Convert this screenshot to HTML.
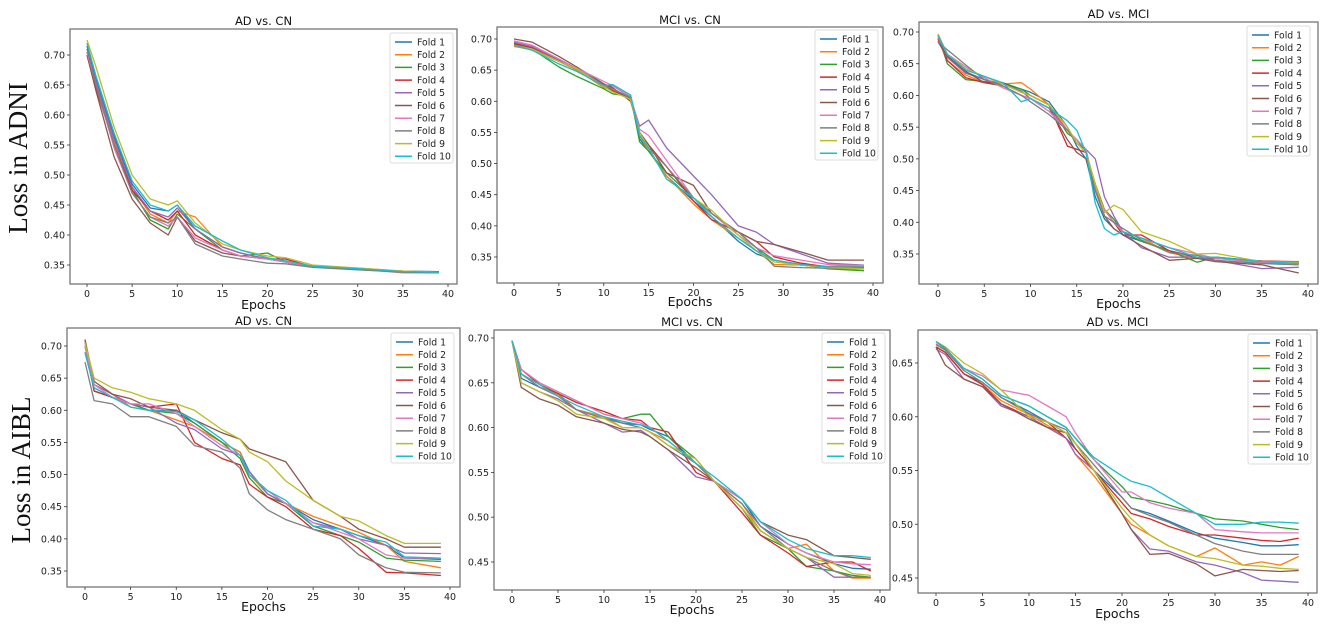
<!DOCTYPE html>
<html><head><meta charset="utf-8">
<style>
html,body{margin:0;padding:0;background:#fff;}
svg{display:block;font-family:"DejaVu Sans","Liberation Sans",sans-serif;}
</style></head>
<body>
<svg id="fig" width="1325" height="633" viewBox="0 0 1325 633" xmlns="http://www.w3.org/2000/svg">
<rect width="1325" height="633" fill="#fff"/>
<text x="0" y="0" transform="translate(27,158) rotate(-90)" text-anchor="middle" font-family="Liberation Serif, serif" font-size="27" fill="#111">Loss in ADNI</text>
<text x="0" y="0" transform="translate(30,470) rotate(-90)" text-anchor="middle" font-family="Liberation Serif, serif" font-size="27" fill="#111">Loss in AIBL</text>
</svg>
<script>
const foldColors=["#1f77b4","#ff7f0e","#2ca02c","#d62728","#9467bd","#8c564b","#e377c2","#7f7f7f","#bcbd22","#17becf"];
const foldLabels=["Fold 1","Fold 2","Fold 3","Fold 4","Fold 5","Fold 6","Fold 7","Fold 8","Fold 9","Fold 10"];
const xTicks=[0,5,10,15,20,25,30,35,40];

// Panel 1: ADNI AD vs CN
const p1Epochs=[0,1,3,5,7,9,10,12,15,17,20,22,25,30,35,39];
const p1Folds=[
[0.715,0.66,0.565,0.485,0.445,0.44,0.45,0.41,0.38,0.37,0.36,0.355,0.348,0.343,0.340,0.339],
[0.705,0.65,0.555,0.48,0.435,0.42,0.44,0.43,0.38,0.37,0.36,0.355,0.347,0.345,0.339,0.338],
[0.705,0.645,0.55,0.475,0.425,0.41,0.435,0.41,0.375,0.365,0.37,0.355,0.347,0.343,0.339,0.338],
[0.70,0.645,0.55,0.475,0.44,0.425,0.44,0.40,0.375,0.365,0.36,0.36,0.347,0.343,0.339,0.338],
[0.71,0.655,0.56,0.48,0.44,0.43,0.445,0.41,0.38,0.37,0.36,0.355,0.347,0.343,0.339,0.338],
[0.70,0.64,0.53,0.46,0.42,0.40,0.43,0.39,0.37,0.365,0.36,0.355,0.347,0.343,0.338,0.337],
[0.705,0.65,0.545,0.47,0.43,0.415,0.43,0.395,0.375,0.365,0.36,0.355,0.347,0.343,0.337,0.337],
[0.71,0.65,0.55,0.47,0.43,0.42,0.43,0.385,0.365,0.36,0.353,0.352,0.346,0.342,0.338,0.337],
[0.725,0.68,0.58,0.50,0.46,0.45,0.457,0.42,0.385,0.375,0.365,0.362,0.35,0.345,0.340,0.338],
[0.72,0.665,0.57,0.49,0.45,0.44,0.45,0.415,0.39,0.375,0.362,0.357,0.348,0.344,0.339,0.338]];

// Panel 2: ADNI MCI vs CN
const p2Epochs=[0,2,5,7,10,11,13,14,15,17,20,22,25,27,29,32,35,39];
const p2Folds=[
[0.69,0.685,0.665,0.65,0.625,0.625,0.607,0.54,0.52,0.48,0.44,0.415,0.375,0.355,0.345,0.337,0.333,0.332],
[0.688,0.683,0.664,0.65,0.622,0.618,0.605,0.545,0.52,0.48,0.435,0.41,0.38,0.36,0.338,0.337,0.335,0.336],
[0.692,0.684,0.655,0.64,0.62,0.612,0.608,0.535,0.52,0.485,0.445,0.42,0.39,0.365,0.345,0.338,0.331,0.328],
[0.693,0.686,0.665,0.652,0.625,0.617,0.605,0.55,0.53,0.495,0.44,0.41,0.39,0.375,0.35,0.34,0.334,0.334],
[0.695,0.688,0.667,0.652,0.626,0.62,0.605,0.56,0.57,0.525,0.48,0.45,0.40,0.39,0.37,0.355,0.34,0.337],
[0.70,0.695,0.672,0.655,0.628,0.622,0.60,0.55,0.53,0.485,0.465,0.42,0.39,0.375,0.37,0.358,0.345,0.345],
[0.697,0.69,0.668,0.653,0.632,0.625,0.607,0.555,0.545,0.505,0.445,0.42,0.385,0.365,0.352,0.345,0.338,0.336],
[0.69,0.684,0.664,0.652,0.625,0.62,0.606,0.545,0.525,0.495,0.445,0.42,0.39,0.365,0.335,0.333,0.332,0.331],
[0.69,0.684,0.664,0.652,0.624,0.615,0.603,0.55,0.525,0.475,0.445,0.425,0.385,0.36,0.342,0.337,0.333,0.331],
[0.69,0.682,0.66,0.648,0.625,0.627,0.61,0.545,0.525,0.475,0.445,0.415,0.38,0.36,0.345,0.338,0.334,0.334]];

// Panel 3: ADNI AD vs MCI
const p3Epochs=[0,1,3,5,7,9,10,12,14,15,16,17,18,19,20,22,25,28,30,35,39];
const p3Folds=[
[0.69,0.66,0.637,0.625,0.618,0.61,0.605,0.59,0.55,0.52,0.50,0.44,0.405,0.39,0.38,0.37,0.355,0.345,0.345,0.339,0.337],
[0.688,0.655,0.632,0.62,0.618,0.62,0.61,0.585,0.545,0.525,0.51,0.46,0.42,0.40,0.385,0.375,0.352,0.343,0.343,0.338,0.338],
[0.695,0.65,0.625,0.622,0.62,0.61,0.60,0.585,0.54,0.53,0.51,0.46,0.42,0.405,0.385,0.37,0.355,0.337,0.345,0.338,0.336],
[0.69,0.655,0.628,0.62,0.62,0.605,0.60,0.585,0.52,0.515,0.51,0.45,0.42,0.40,0.38,0.38,0.355,0.345,0.343,0.339,0.338],
[0.685,0.66,0.635,0.625,0.618,0.607,0.595,0.58,0.545,0.53,0.515,0.50,0.44,0.41,0.385,0.36,0.345,0.345,0.34,0.327,0.329],
[0.685,0.662,0.638,0.62,0.615,0.60,0.595,0.58,0.53,0.51,0.50,0.45,0.41,0.39,0.38,0.363,0.34,0.343,0.338,0.333,0.32],
[0.692,0.665,0.645,0.628,0.612,0.60,0.595,0.575,0.545,0.53,0.515,0.455,0.42,0.40,0.385,0.375,0.36,0.35,0.343,0.336,0.335],
[0.685,0.672,0.648,0.625,0.615,0.60,0.59,0.57,0.545,0.525,0.51,0.45,0.41,0.40,0.39,0.372,0.352,0.348,0.34,0.335,0.333],
[0.697,0.665,0.642,0.63,0.618,0.605,0.6,0.585,0.55,0.525,0.51,0.46,0.415,0.427,0.42,0.385,0.37,0.35,0.351,0.338,0.337],
[0.695,0.665,0.64,0.63,0.62,0.59,0.595,0.58,0.56,0.545,0.51,0.43,0.39,0.38,0.385,0.375,0.36,0.345,0.345,0.338,0.335]];

// Panel 4: AIBL AD vs CN
const p4Epochs=[0,1,3,5,7,10,12,15,17,18,20,22,25,28,30,33,35,39];
const p4Folds=[
[0.69,0.635,0.62,0.61,0.60,0.60,0.58,0.55,0.535,0.505,0.47,0.455,0.43,0.415,0.405,0.39,0.37,0.368],
[0.705,0.64,0.625,0.605,0.60,0.585,0.575,0.55,0.535,0.50,0.47,0.455,0.435,0.42,0.41,0.39,0.365,0.355],
[0.70,0.63,0.62,0.61,0.60,0.595,0.58,0.55,0.525,0.495,0.465,0.455,0.42,0.405,0.395,0.37,0.367,0.365],
[0.71,0.63,0.62,0.61,0.605,0.61,0.55,0.525,0.515,0.485,0.465,0.45,0.415,0.405,0.385,0.348,0.347,0.343],
[0.70,0.64,0.625,0.61,0.605,0.58,0.57,0.54,0.53,0.505,0.47,0.455,0.425,0.415,0.40,0.39,0.378,0.377],
[0.71,0.645,0.625,0.618,0.605,0.60,0.585,0.565,0.555,0.54,0.53,0.52,0.46,0.435,0.415,0.40,0.387,0.387],
[0.70,0.64,0.62,0.61,0.61,0.595,0.575,0.545,0.53,0.50,0.475,0.455,0.425,0.41,0.40,0.375,0.37,0.37],
[0.675,0.615,0.61,0.59,0.59,0.575,0.545,0.535,0.51,0.47,0.445,0.43,0.415,0.40,0.375,0.355,0.348,0.347],
[0.705,0.65,0.635,0.628,0.618,0.61,0.60,0.57,0.555,0.535,0.52,0.49,0.46,0.435,0.428,0.405,0.393,0.393],
[0.69,0.635,0.62,0.605,0.60,0.598,0.585,0.555,0.53,0.50,0.475,0.46,0.42,0.415,0.405,0.395,0.372,0.37]];

// Panel 5: AIBL MCI vs CN
const p5Epochs=[0,1,3,5,7,10,12,14,15,17,20,22,25,27,30,32,35,37,39];
const p5Folds=[
[0.697,0.655,0.645,0.638,0.62,0.612,0.605,0.603,0.598,0.59,0.56,0.54,0.52,0.49,0.47,0.46,0.448,0.443,0.442],
[0.697,0.66,0.645,0.637,0.62,0.612,0.60,0.60,0.595,0.585,0.56,0.54,0.515,0.485,0.465,0.47,0.44,0.432,0.432],
[0.697,0.665,0.65,0.64,0.63,0.615,0.61,0.615,0.615,0.59,0.565,0.54,0.51,0.48,0.465,0.445,0.44,0.435,0.433],
[0.697,0.665,0.648,0.638,0.628,0.618,0.61,0.608,0.60,0.595,0.55,0.54,0.505,0.48,0.46,0.445,0.45,0.45,0.44],
[0.697,0.65,0.64,0.632,0.62,0.605,0.595,0.597,0.59,0.575,0.545,0.54,0.51,0.485,0.465,0.455,0.433,0.433,0.433],
[0.697,0.645,0.632,0.625,0.612,0.605,0.598,0.595,0.59,0.575,0.555,0.54,0.52,0.495,0.48,0.475,0.457,0.455,0.453],
[0.697,0.665,0.65,0.64,0.63,0.615,0.61,0.605,0.60,0.585,0.56,0.54,0.52,0.495,0.47,0.46,0.45,0.448,0.447],
[0.697,0.66,0.645,0.635,0.62,0.61,0.605,0.60,0.595,0.58,0.56,0.54,0.515,0.49,0.465,0.455,0.44,0.433,0.433],
[0.697,0.65,0.64,0.63,0.615,0.61,0.60,0.60,0.595,0.58,0.565,0.54,0.51,0.485,0.465,0.455,0.448,0.437,0.435],
[0.697,0.66,0.648,0.635,0.625,0.612,0.607,0.603,0.60,0.585,0.56,0.545,0.52,0.495,0.475,0.465,0.457,0.457,0.455]];

// Panel 6: AIBL AD vs MCI
const p6Epochs=[0,1,3,5,7,10,12,14,15,17,20,21,23,25,28,30,33,35,37,39];
const p6Folds=[
[0.665,0.66,0.64,0.632,0.618,0.605,0.595,0.585,0.57,0.55,0.525,0.515,0.51,0.503,0.492,0.487,0.483,0.48,0.48,0.481],
[0.665,0.66,0.64,0.63,0.615,0.602,0.592,0.58,0.565,0.545,0.51,0.50,0.49,0.48,0.47,0.478,0.462,0.465,0.462,0.47],
[0.67,0.663,0.645,0.635,0.62,0.61,0.60,0.59,0.58,0.56,0.535,0.525,0.522,0.518,0.51,0.505,0.503,0.50,0.497,0.495],
[0.665,0.66,0.64,0.63,0.612,0.60,0.595,0.58,0.57,0.55,0.52,0.51,0.505,0.498,0.49,0.49,0.487,0.485,0.484,0.487],
[0.663,0.658,0.635,0.628,0.61,0.60,0.59,0.58,0.565,0.55,0.51,0.495,0.477,0.475,0.465,0.462,0.455,0.448,0.447,0.446],
[0.665,0.648,0.635,0.628,0.612,0.598,0.59,0.585,0.575,0.55,0.51,0.495,0.472,0.473,0.463,0.452,0.458,0.457,0.456,0.457],
[0.668,0.662,0.645,0.638,0.625,0.62,0.61,0.60,0.585,0.56,0.53,0.53,0.52,0.515,0.51,0.495,0.493,0.492,0.492,0.492],
[0.667,0.662,0.643,0.632,0.618,0.603,0.595,0.588,0.575,0.555,0.525,0.515,0.508,0.502,0.49,0.482,0.475,0.472,0.472,0.472],
[0.67,0.665,0.65,0.64,0.625,0.60,0.595,0.585,0.575,0.55,0.515,0.505,0.49,0.48,0.47,0.468,0.462,0.461,0.459,0.458],
[0.67,0.664,0.645,0.635,0.62,0.61,0.60,0.59,0.58,0.562,0.545,0.54,0.535,0.525,0.51,0.50,0.50,0.502,0.502,0.501]];

const yTicksA=[0.35,0.40,0.45,0.50,0.55,0.60,0.65,0.70];
const yTicksB=[0.45,0.50,0.55,0.60,0.65,0.70];
const yTicksC=[0.45,0.50,0.55,0.60,0.65];

const panels=[
 {name:"adni-ad-vs-cn",title:"AD vs. CN",ep:p1Epochs,folds:p1Folds,yt:yTicksA,box:[70,29,457,284],x0:87,x40:448,ya:[0.70,55],yb:[0.35,265],ty:25,xl:309,leg:[390,33]},
 {name:"adni-mci-vs-cn",title:"MCI vs. CN",ep:p2Epochs,folds:p2Folds,yt:yTicksA,box:[497,27,883,283],x0:514,x40:873,ya:[0.70,39],yb:[0.35,257],ty:24,xl:306,leg:[815,30]},
 {name:"adni-ad-vs-mci",title:"AD vs. MCI",ep:p3Epochs,folds:p3Folds,yt:yTicksA,box:[919,22,1318,284],x0:938,x40:1308,ya:[0.70,32],yb:[0.35,254],ty:18,xl:308,leg:[1247,26]},
 {name:"aibl-ad-vs-cn",title:"AD vs. CN",ep:p4Epochs,folds:p4Folds,yt:yTicksA,box:[67,328,460,587],x0:85,x40:450,ya:[0.70,346],yb:[0.35,571],ty:325,xl:611,leg:[391,333]},
 {name:"aibl-mci-vs-cn",title:"MCI vs. CN",ep:p5Epochs,folds:p5Folds,yt:yTicksB,box:[494,330,890,590],x0:512,x40:880,ya:[0.70,338],yb:[0.45,562],ty:326,xl:614,leg:[822,333]},
 {name:"aibl-ad-vs-mci",title:"AD vs. MCI",ep:p6Epochs,folds:p6Folds,yt:yTicksC,box:[918,330,1317,593],x0:936,x40:1308,ya:[0.65,363],yb:[0.45,578],ty:326,xl:618,leg:[1248,334]}
];

const NS="http://www.w3.org/2000/svg";
const fig=document.getElementById('fig');
function mk(tag,attrs,parent,txt){const e=document.createElementNS(NS,tag);for(const k in attrs)e.setAttribute(k,attrs[k]);if(txt!==undefined)e.textContent=txt;parent.appendChild(e);return e;}

panels.forEach(p=>{
  const g=mk('g',{},fig);
  
  
  const xs=v=>p.x0+(p.x40-p.x0)*v/40;
  const ys=v=>p.ya[1]+(p.yb[1]-p.ya[1])*(v-p.ya[0])/(p.yb[0]-p.ya[0]);
  const [L,T,R,B]=p.box;
  const t=mk('text',{x:(L+R)/2,y:p.ty,'text-anchor':'middle','font-size':11.5,fill:'#111'},g,p.title);
  
  
  p.folds.forEach((vals,i)=>{
    const d=vals.map((v,j)=>(j?'L':'M')+xs(p.ep[j]).toFixed(1)+','+ys(v).toFixed(1)).join('');
    const path=mk('path',{d:d,fill:'none',stroke:foldColors[i],'stroke-width':1.3,'stroke-linejoin':'round'},g);
    
    
  });
  const frame=mk('rect',{x:L,y:T,width:R-L,height:B-T,fill:'none',stroke:'#777','stroke-width':1.3},g);
  
  
  xTicks.forEach(v=>{
    const x=xs(v);
    mk('line',{x1:x,x2:x,y1:B,y2:B+3,stroke:'#333','stroke-width':0.8},g);
    const tl=mk('text',{x:x,y:B+13,'text-anchor':'middle','font-size':9.5,fill:'#222'},g,String(v));
    
    
  });
  p.yt.forEach(v=>{
    const y=ys(v);
    mk('line',{x1:L-3,x2:L,y1:y,y2:y,stroke:'#333','stroke-width':0.8},g);
    const tl=mk('text',{x:L-5,y:y+3.5,'text-anchor':'end','font-size':9.5,fill:'#222'},g,v.toFixed(2));
    
    
  });
  const xl=mk('text',{x:(L+R)/2,y:p.xl,'text-anchor':'middle','font-size':12.5,fill:'#111'},g,'Epochs');
  
  
  const [lx,ly]=p.leg;
  const lg=mk('g',{},g);
  
  
  mk('rect',{x:lx,y:ly,width:63,height:130,rx:2,fill:'#fff','fill-opacity':0.85,stroke:'#ddd','stroke-width':1},lg);
  foldLabels.forEach((lab,i)=>{
    const yy=ly+9+i*12.7;
    mk('line',{x1:lx+5,x2:lx+22,y1:yy,y2:yy,stroke:foldColors[i],'stroke-width':1.5},lg);
    const tx=mk('text',{x:lx+27,y:yy+3.3,'font-size':9.3,fill:'#222'},lg,lab);
    
    
  });
});
</script>
</body></html>
